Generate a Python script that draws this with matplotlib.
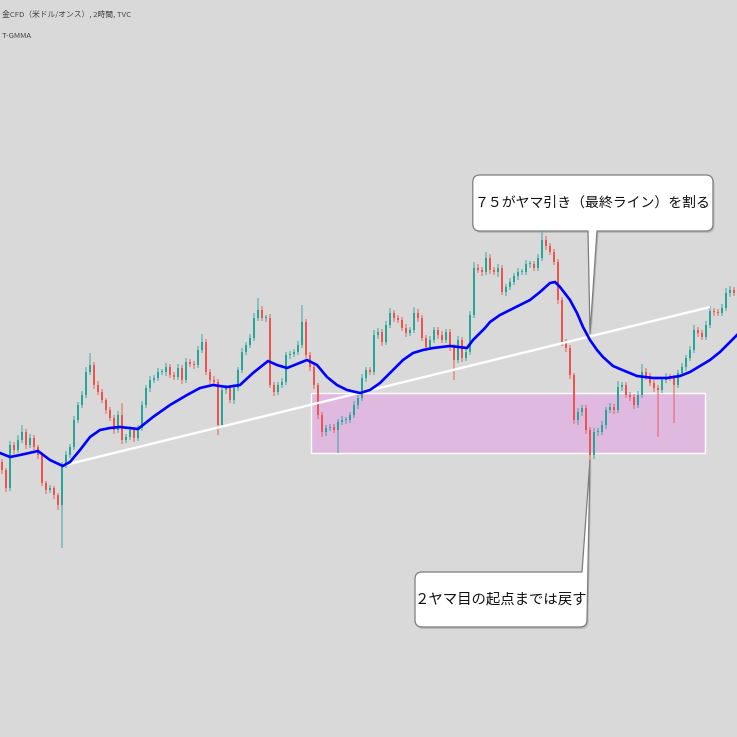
import matplotlib
matplotlib.use("Agg")
import matplotlib.pyplot as plt
import numpy as np
from matplotlib.path import Path
from matplotlib.patches import PathPatch, Rectangle
from matplotlib.transforms import IdentityTransform

plt.rcParams['font.family'] = ['Noto Sans CJK JP', 'DejaVu Sans']

TITLE = "金CFD（米ドル/オンス）, 2時間, TVC"
SUBTITLE = "T-GMMA"
NOTE_TOP = "７５がヤマ引き（最終ライン）を割る"
NOTE_BOTTOM = "２ヤマ目の起点までは戻す"

FIRST_OPEN = 275
CLOSES = [
    267, 249, 292, 287, 297, 305, 292, 299, 290, 282,
    254, 247, 249, 242, 232, 272, 282, 290, 317, 332,
    342, 365, 372, 352, 345, 337, 327, 319, 307, 322,
    297, 300, 307, 299, 309, 332, 349, 357, 359, 365,
    365, 370, 362, 360, 369, 357, 375, 373, 372, 387,
    395, 365, 357, 355, 312, 347, 349, 337, 349, 367,
    385, 392, 399, 419, 427, 419, 419, 352, 345, 352,
    355, 382, 383, 385, 392, 415, 382, 370, 352, 322,
    305, 309, 310, 307, 315, 317, 317, 322, 332, 339,
    359, 367, 365, 402, 405, 395, 412, 424, 419, 417,
    409, 404, 407, 424, 419, 399, 390, 397, 407, 402,
    397, 405, 390, 377, 397, 379, 385, 422, 469, 467,
    465, 479, 467, 465, 469, 445, 450, 455, 461, 465,
    465, 473, 473, 469, 479, 497, 491, 485, 475, 437,
    395, 389, 362, 317, 325, 329, 307, 282, 305, 305,
    312, 327, 330, 327, 350, 352, 342, 340, 332, 342,
    365, 361, 354, 349, 347, 357, 360, 359, 352, 364,
    370, 379, 387, 407, 404, 400, 412, 426, 425, 424,
    429, 444, 447, 444,
]
UPPER_WICKS = [
    3, 2, 4, 3, 5, 7, 3, 4, 3, 2, 3, 2, 3, 2, 2, 3, 4, 3, 4, 3,
    4, 5, 12, 3, 4, 3, 2, 3, 3, 4, 12, 3, 4, 3, 3, 4, 3, 4, 3, 4,
    3, 4, 3, 3, 4, 3, 4, 3, 3, 4, 8, 3, 3, 4, 3, 4, 3, 3, 4, 3,
    4, 3, 4, 5, 12, 4, 3, 4, 3, 3, 4, 3, 3, 3, 4, 17, 3, 3, 3, 2,
    3, 3, 3, 3, 3, 4, 3, 3, 4, 3, 4, 3, 3, 5, 4, 3, 4, 5, 3, 3,
    3, 4, 3, 6, 4, 3, 3, 4, 3, 3, 4, 3, 3, 3, 4, 3, 3, 4, 6, 4,
    3, 6, 4, 3, 4, 3, 3, 4, 3, 4, 3, 4, 3, 3, 4, 13, 4, 3, 3, 3,
    3, 3, 3, 2, 4, 3, 3, 3, 4, 4, 4, 3, 4, 3, 6, 3, 3, 3, 3, 4,
    8, 4, 3, 3, 3, 3, 4, 3, 3, 3, 4, 3, 4, 5, 3, 3, 4, 5, 3, 3,
    4, 5, 4, 3,
]
LOWER_WICKS = [
    4, 4, 3, 4, 3, 3, 4, 3, 3, 4, 3, 4, 3, 4, 5, 43, 3, 3, 3, 3,
    3, 3, 3, 4, 3, 3, 4, 3, 4, 3, 4, 3, 3, 4, 3, 3, 3, 4, 3, 3,
    3, 4, 3, 3, 3, 4, 3, 3, 4, 3, 3, 3, 4, 3, 10, 3, 4, 3, 4, 3,
    3, 3, 3, 3, 3, 3, 4, 3, 4, 3, 3, 3, 4, 3, 3, 3, 3, 4, 4, 4,
    5, 4, 3, 3, 23, 3, 4, 3, 3, 4, 3, 4, 3, 3, 4, 4, 3, 3, 4, 3,
    3, 4, 3, 3, 4, 3, 4, 3, 3, 4, 3, 3, 4, 20, 3, 4, 3, 3, 3, 3,
    4, 3, 4, 3, 5, 3, 4, 3, 3, 4, 3, 3, 4, 3, 3, 3, 4, 3, 3, 4,
    4, 4, 4, 4, 5, 4, 4, 8, 4, 4, 3, 4, 3, 4, 3, 4, 3, 4, 4, 3,
    3, 4, 3, 4, 47, 3, 3, 3, 38, 3, 3, 4, 3, 3, 4, 3, 3, 3, 4, 3,
    3, 3, 4, 3,
]

MA_IDX = [-0.5, 2, 4.5, 9, 12, 15.2, 17, 19.5, 22, 24.5, 27, 29.5, 34, 37.75,
          42, 46.25, 49.5, 52.75, 56.25, 59.5, 62.75, 66.5, 68.75, 71.25, 73.75,
          76.25, 78.75, 81.25, 83.75, 86.25, 89.5, 92, 94.5, 97.75, 100.25,
          102.75, 105.25, 107.75, 112, 116.25, 117.75, 120.75, 122, 124.5, 127,
          129.5, 132, 134.5, 137, 138.25, 139.5, 142, 143.75, 145.25, 147,
          148.75, 150.25, 152.75, 154.5, 158.75, 162.75, 166.25, 169.5, 172,
          174.5, 177, 179.5, 182, 183.75]
MA_VALUES = [284, 280, 282, 286, 277, 271, 275, 287, 300, 307, 309, 310, 308, 320,
             332, 342, 349, 352, 350, 352, 364, 376, 372, 369, 373,
             377, 372, 360, 352, 347, 344, 347, 354, 367, 377,
             384, 387, 389, 391, 389, 397, 409, 415, 422, 427,
             432, 437, 445, 454, 455, 450, 437, 424, 410, 397,
             387, 380, 371, 368, 361, 359, 359, 361, 365,
             371, 377, 385, 395, 402]

TREND_IDX = [15.75, 177.0]
TREND_VALUES = [272, 430]
ZONE_IDX = [77.25, 175.75]
ZONE_VALUES = [284, 344]

UP = '#26a69a'
DOWN = '#ef5350'
BG = '#d9d9d9'

fig = plt.figure(figsize=(7.37, 7.37), dpi=100)
fig.patch.set_facecolor(BG)
ax = fig.add_axes([0, 0, 1, 1])
ax.set_facecolor(BG)
ax.set_xlim(-0.5, 183.75)
ax.set_ylim(0, 737)
ax.axis('off')

closes = np.array(CLOSES, dtype=float)
opens = np.concatenate([[FIRST_OPEN], closes[:-1]])
highs = np.maximum(opens, closes) + np.array(UPPER_WICKS)
lows = np.minimum(opens, closes) - np.array(LOWER_WICKS)
idx = np.arange(len(closes))
colors = np.where(closes >= opens, UP, DOWN)

# zone
ax.add_patch(Rectangle((ZONE_IDX[0], ZONE_VALUES[0]), ZONE_IDX[1] - ZONE_IDX[0],
                       ZONE_VALUES[1] - ZONE_VALUES[0], facecolor='#dfb9df',
                       edgecolor='white', lw=1.0, zorder=1))

# candles
ax.vlines(idx, lows, highs, colors=colors, lw=1.1, alpha=0.6, zorder=2)
body = np.abs(closes - opens)
body = np.where(body < 1.5, 1.5, body)
ax.bar(idx, body, bottom=np.minimum(opens, closes), width=0.72, color=colors,
       lw=0, zorder=2.2)

ax.plot(TREND_IDX, TREND_VALUES, color='white', lw=1.7, zorder=2.5,
        solid_capstyle='butt')
ax.plot(MA_IDX, MA_VALUES, color='#0000ff', lw=1.9, zorder=3)

ax.text(0.003, 0.98, TITLE, transform=ax.transAxes, fontsize=5.6, color='#444444',
        ha='left', va='center')
ax.text(0.003, 0.951, SUBTITLE, transform=ax.transAxes, fontsize=5.6, color='#444444',
        ha='left', va='center')


def callout(box, tip, base_x, side, text, fs):
    (x0, y0), (x1, y1) = ax.transData.transform([(box[0], box[2]), (box[1], box[3])])
    tx, ty = ax.transData.transform(tip)
    bx = [ax.transData.transform((b, 0))[0] for b in base_x]
    r = 7
    M, L, C = Path.MOVETO, Path.LINETO, Path.CURVE3
    v, c = [(x0 + r, y0)], [M]
    if side == 'bottom':
        v += [(bx[0], y0), (tx, ty), (bx[1], y0)]
        c += [L, L, L]
    v += [(x1 - r, y0), (x1, y0), (x1, y0 + r)]
    c += [L, C, C]
    if side == 'topright':
        v += [(tx, ty), (bx[0], y1)]
        c += [L, L]
    else:
        v += [(x1, y1 - r), (x1, y1), (x1 - r, y1)]
        c += [L, C, C]
    v += [(x0 + r, y1), (x0, y1), (x0, y1 - r), (x0, y0 + r), (x0, y0), (x0 + r, y0)]
    c += [L, C, C, L, C, C]
    v += [(x0 + r, y0)]
    c += [Path.CLOSEPOLY]
    path = Path(v, c)
    shadow = Path(np.array(v) + np.array([1.5, -2.0]), c)
    ax.add_patch(PathPatch(shadow, facecolor='#9a9a9a', edgecolor='none', alpha=0.5,
                           transform=IdentityTransform(), zorder=4))
    ax.add_patch(PathPatch(path, facecolor='white', edgecolor='#7d7d7d', lw=0.9,
                           transform=IdentityTransform(), zorder=5))
    ax.text((box[0] + box[1]) / 2, (box[2] + box[3]) / 2, text, fontsize=fs,
            color='#111111', ha='center', va='center', zorder=6)


callout((117.7, 177.75, 506, 562), (147.0, 403), (146.5, 148.75), 'bottom', NOTE_TOP, 10.0)
callout((103.25, 146.25, 110, 165), (147.0, 277), (145.0,), 'topright', NOTE_BOTTOM, 10.4)

fig.savefig('out.png', dpi=100, facecolor=BG)
